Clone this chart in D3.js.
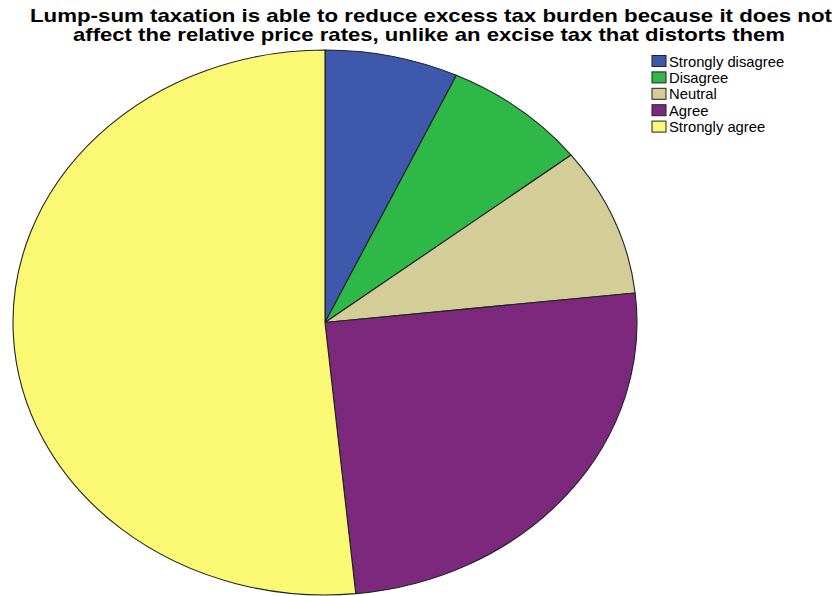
<!DOCTYPE html>
<html>
<head>
<meta charset="utf-8">
<script src="https://cdn.jsdelivr.net/npm/d3@7"></script>
<style>
  html, body { margin: 0; padding: 0; background: #fff; }
  svg { display: block; }
</style>
</head>
<body>
<svg id="chart" width="835" height="596"></svg>
<script>
const titleLines = [
  "Lump-sum taxation is able to reduce excess tax burden because it does not",
  "affect the relative price rates, unlike an excise tax that distorts them"
];
const categories = ["Strongly disagree", "Disagree", "Neutral", "Agree", "Strongly agree"];
const counts = [11, 12, 14, 40, 82];
const colors = ["#3e58ac", "#2eb848", "#d3ce97", "#7c287d", "#fbf873"];

const svg = d3.select("#chart");

// title
const title = svg.append("g")
  .attr("font-family", "Liberation Sans, Arial, sans-serif")
  .attr("font-weight", "bold")
  .attr("font-size", 18.5)
  .attr("fill", "#000")
  .attr("text-anchor", "middle");
title.selectAll("text").data(titleLines).join("text")
  .attr("x", (d, i) => i === 0 ? 431 : 429)
  .attr("y", (d, i) => 22 + i * 19)
  .attr("textLength", (d, i) => i === 0 ? 802 : 712)
  .attr("lengthAdjust", "spacingAndGlyphs")
  .text(d => d);

// elliptical pie
const cx = 325, cy = 322.5, rx = 312, ry = 272.5;
const pie = d3.pie().sort(null).startAngle(0).endAngle(2 * Math.PI);
const arc = d3.arc().innerRadius(0).outerRadius(ry);
const color = d3.scaleOrdinal().domain(categories).range(colors);

const pieG = svg.append("g")
  .attr("transform", `translate(${cx},${cy}) scale(${rx / ry},1)`);
pieG.selectAll("path").data(pie(counts)).join("path")
  .attr("d", arc)
  .attr("fill", (d, i) => color(categories[i]))
  .attr("stroke", "#222")
  .attr("stroke-width", 1.1)
  .attr("stroke-linejoin", "round")
  .attr("vector-effect", "non-scaling-stroke");

// legend
const legend = svg.append("g")
  .attr("font-family", "Liberation Sans, Arial, sans-serif")
  .attr("font-size", 14.8);
const rows = legend.selectAll("g").data(categories).join("g")
  .attr("transform", (d, i) => `translate(652,${55.5 + i * 16.4})`);
rows.append("rect")
  .attr("width", 14).attr("height", 11)
  .attr("fill", d => color(d))
  .attr("stroke", "#222").attr("stroke-width", 1);
rows.append("text")
  .attr("x", 17).attr("y", 11)
  .attr("fill", "#000")
  .text(d => d);
</script>
</body>
</html>
